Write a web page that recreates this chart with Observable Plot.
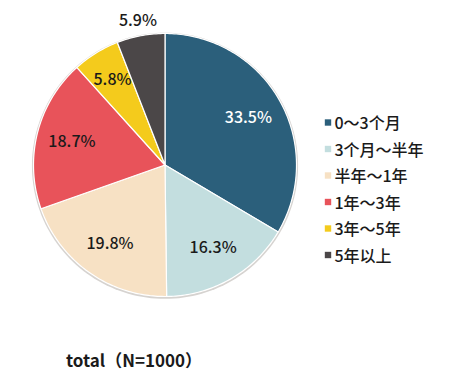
<!DOCTYPE html>
<html>
<head>
<meta charset="utf-8">
<script src="https://cdn.jsdelivr.net/npm/d3@7"></script>
<script src="https://cdn.jsdelivr.net/npm/@observablehq/plot@0.6"></script>
<style>
  body { margin: 0; background: #fff; font-family: "Noto Sans CJK SC", "Noto Sans", sans-serif; }
  #chart { width: 450px; }
  #caption { margin-top: 18px; padding-left: 66px; font-size: 17px; line-height: 24px; font-weight: bold; color: #1a1a1a; }
</style>
</head>
<body>
<div id="chart"></div>
<div id="caption">total（N=1000）</div>
<script>
// ---- data ----
const categories = ["0～3个月", "3个月～半年", "半年～1年", "1年～3年", "3年～5年", "5年以上"];
const shares = [33.5, 16.3, 19.8, 18.7, 5.8, 5.9];
const colors = ["#2b5f7b", "#c3dedf", "#f7e1c4", "#e8535a", "#f4cb1c", "#4b4748"];
const labelColors = ["#ffffff", "#1a1a1a", "#1a1a1a", "#1a1a1a", "#1a1a1a", "#1a1a1a"];

// ---- layout (pixels) ----
const W = 450, H = 330;
const cx = 164.5, cy = 164.5, R = 131.5;
const xDomain = [-cx / R, (W - cx) / R];
const yDomain = [-(H - cy) / R, cy / R];
const pxX = (px) => (px - cx) / R;
const pxY = (py) => (cy - py) / R;

// ---- slice geometry from data ----
const total = d3.sum(shares);
const slices = [];
let acc = 0;
shares.forEach((v, i) => {
  const a0 = acc / total * 2 * Math.PI;
  acc += v;
  const a1 = acc / total * 2 * Math.PI;
  slices.push({category: categories[i], value: v, a0, a1, i});
});

const polyPts = [];
for (const s of slices) {
  polyPts.push({category: s.category, x: 0, y: 0});
  const n = Math.max(2, Math.ceil((s.a1 - s.a0) / (Math.PI / 180)));
  for (let k = 0; k <= n; k++) {
    const a = s.a0 + (s.a1 - s.a0) * k / n;
    polyPts.push({category: s.category, x: Math.sin(a), y: Math.cos(a)});
  }
  polyPts.push({category: s.category, x: 0, y: 0});
}

const labels = slices.map((s) => {
  const mid = (s.a0 + s.a1) / 2;
  const r = s.i === slices.length - 1 ? 1.115 : (s.value < 10 ? 0.76 : 0.73);
  return {text: s.value.toFixed(1) + "%", x: Math.sin(mid) * r, y: Math.cos(mid) * r, color: labelColors[s.i]};
});

const legend = categories.map((c, i) => ({category: c, y: pxY(123.5 + i * 26.5)}));

const circle = d3.range(0, 361, 2).map((d) => ({x: Math.sin(d * Math.PI / 180) * 1.012, y: Math.cos(d * Math.PI / 180) * 1.012 - 0.006}));

const chart = Plot.plot({
  width: W,
  height: H,
  margin: 0,
  style: {fontFamily: "\"Noto Sans CJK SC\", \"Noto Sans\", sans-serif", background: "#fff"},
  x: {domain: xDomain, axis: null},
  y: {domain: yDomain, axis: null},
  color: {domain: categories, range: colors},
  marks: [
    Plot.line(circle, {x: "x", y: "y", fill: "#d6d3d0", stroke: "none"}),
    Plot.line(polyPts, {x: "x", y: "y", z: "category", fill: "category", stroke: "#ffffff", strokeWidth: 1.2, strokeLinejoin: "round"}),
    Plot.text(labels, {x: "x", y: "y", text: "text", fill: "color", fontSize: 16, fontWeight: 500}),
    Plot.dot(legend, {x: pxX(327.5), y: "y", symbol: "square", r: 3.6, fill: "category", stroke: "none", dy: -1.5}),
    Plot.text(legend, {x: pxX(334), y: "y", text: "category", textAnchor: "start", fontSize: 16, fontWeight: 500, fill: "#1a1a1a"})
  ]
});
document.getElementById("chart").appendChild(chart);
</script>
</body>
</html>
